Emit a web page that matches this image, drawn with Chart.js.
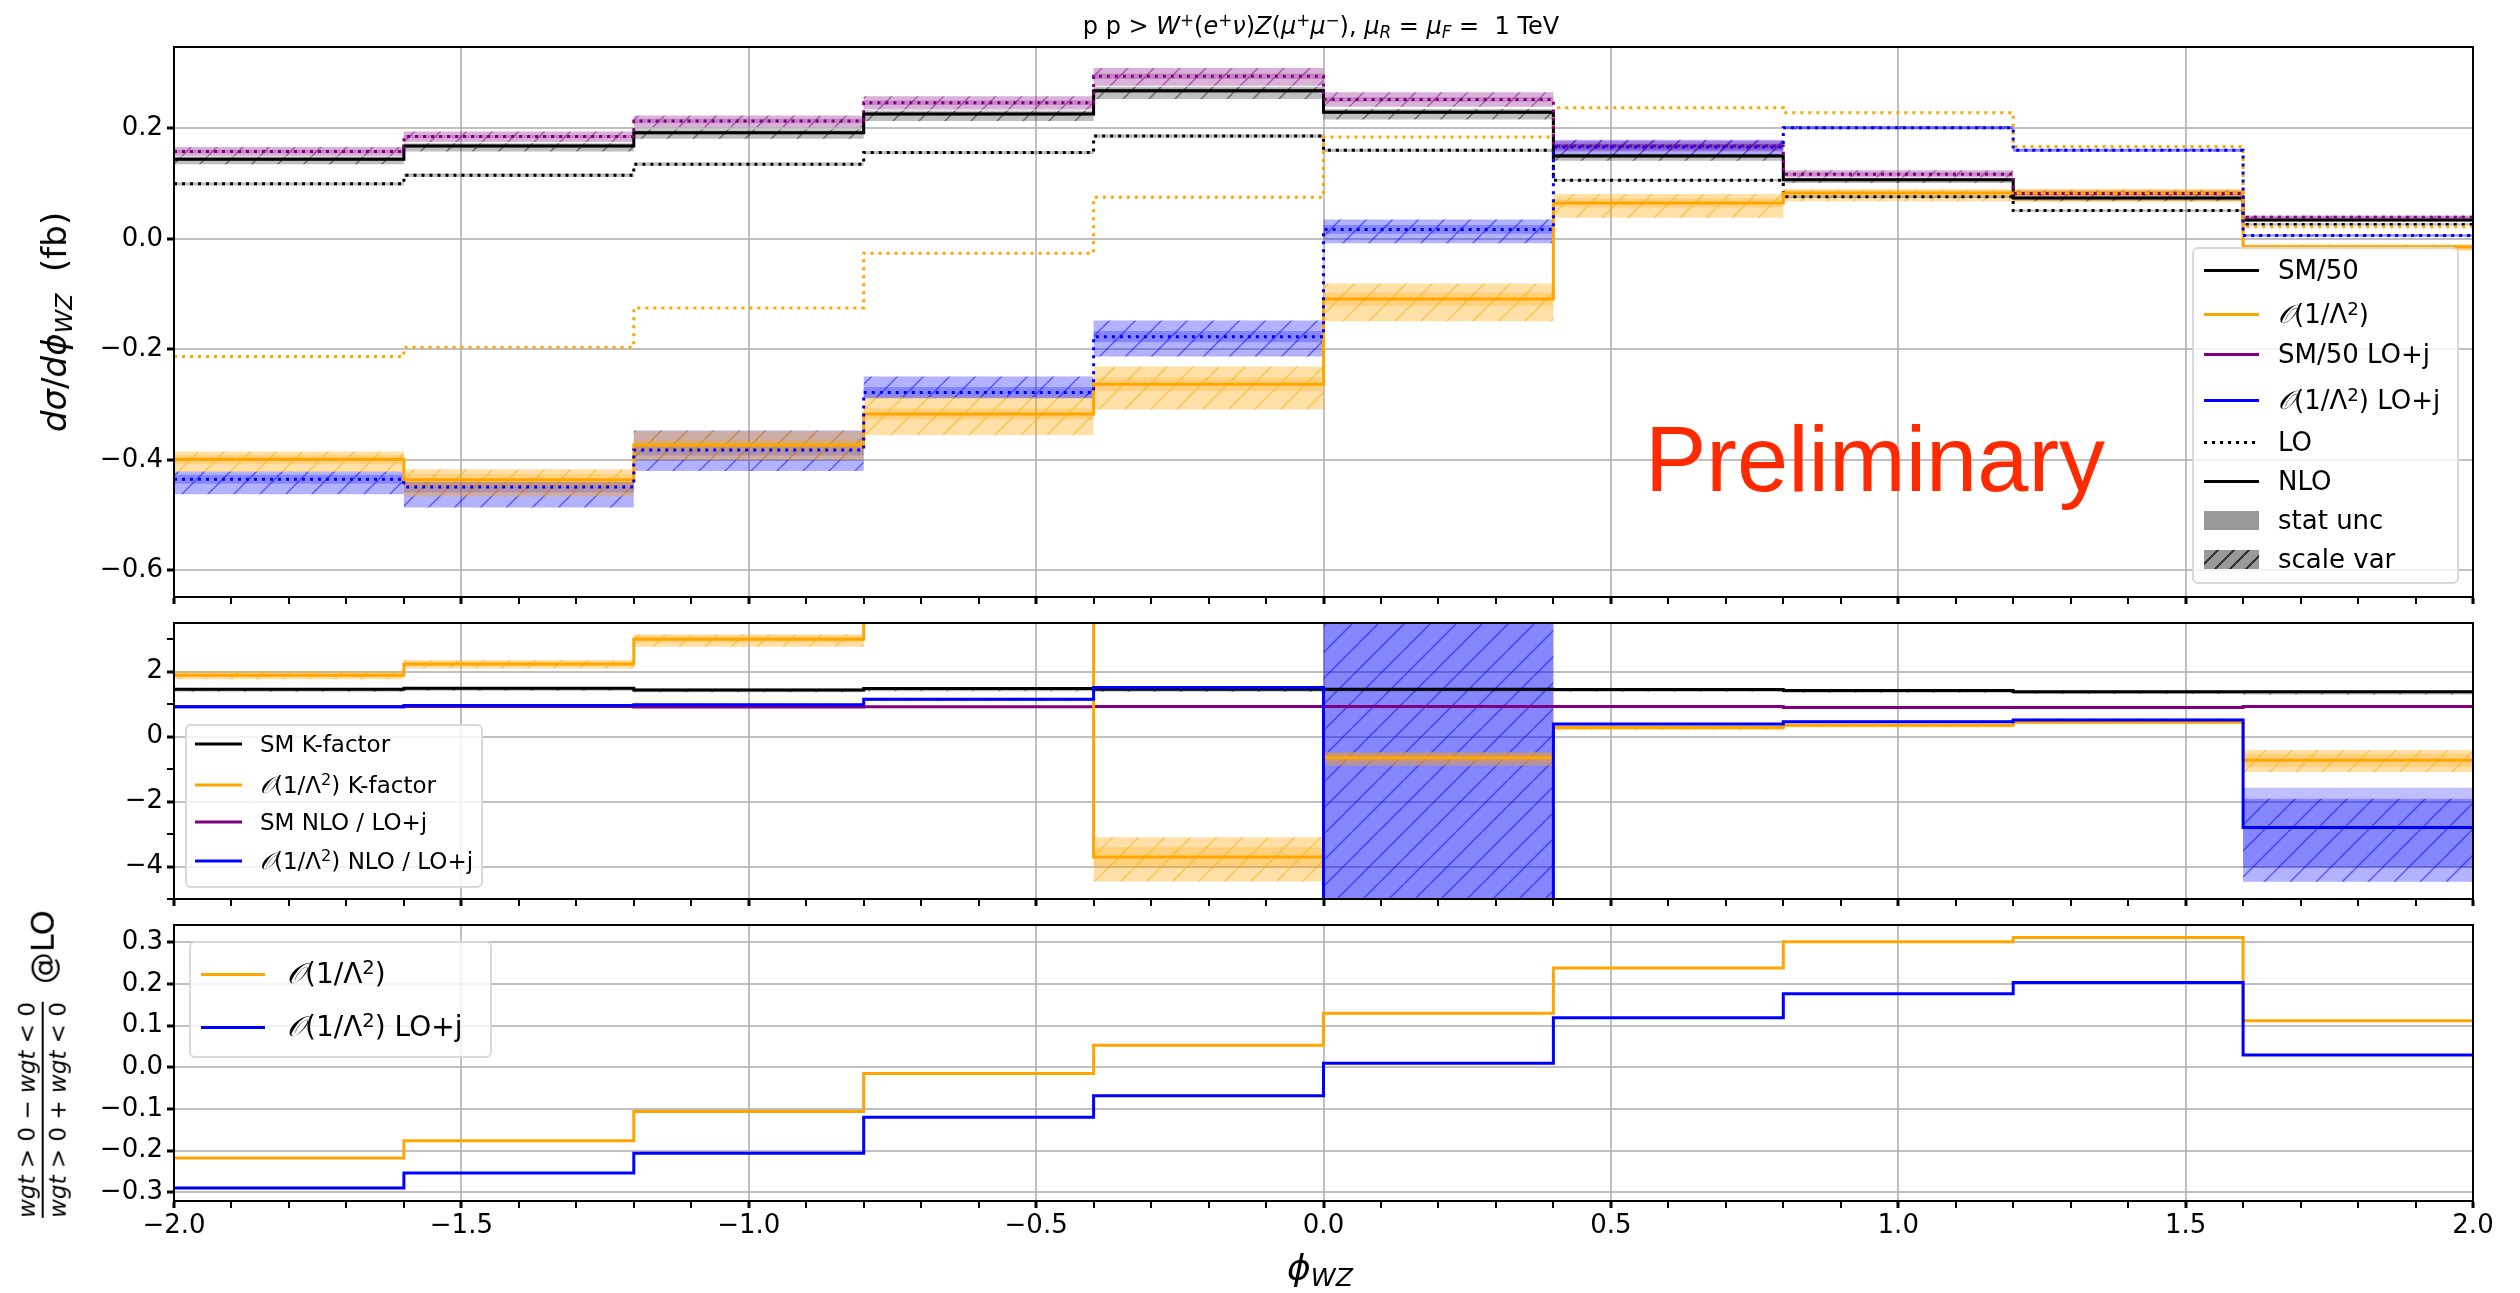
<!DOCTYPE html>
<html>
<head>
<meta charset="utf-8">
<script src="https://cdn.jsdelivr.net/npm/chart.js@4.4.0/dist/chart.umd.min.js"></script>
<style>
  html, body { margin: 0; padding: 0; background: #fff; }
  #fig { position: relative; width: 2520px; height: 1293px; overflow: hidden; font-family: "DejaVu Sans", sans-serif; color: #000; }
  canvas { position: absolute; left: 0; }
  .lbl { position: absolute; white-space: nowrap; line-height: 1; transform: translate(-50%, -50%); }
  .rot { transform: translate(-50%, -50%) rotate(-90deg); }
  sup { font-size: 0.7em; vertical-align: 0.45em; line-height: 0; }
  sub { font-size: 0.7em; vertical-align: -0.25em; line-height: 0; }
  .cal { font-style: italic; font-family: "DejaVu Serif", serif; }
  .legend { position: absolute; background: rgba(255,255,255,0.8); border: 2px solid #d9d9d9; border-radius: 6px; box-sizing: border-box; }
  .entry { position: absolute; display: flex; align-items: center; white-space: nowrap; line-height: 1; transform: translateY(-50%); }
  .h { display: inline-block; flex: none; }
  .ln { height: 0; border-top: 3px solid #000; }
  .dot { height: 3px; background: repeating-linear-gradient(90deg, #000 0 3px, transparent 3px 8px); }
  .frac { display: inline-flex; flex-direction: column; align-items: center; line-height: 1.1; }
  .bar { align-self: stretch; border-top: 2px solid #000; margin: 2px 0; }
</style>
</head>
<body>
<div id="fig">
  <canvas id="top" width="2520" height="621" style="top:0px"></canvas>
  <canvas id="mid" width="2520" height="325" style="top:598px"></canvas>
  <canvas id="bot" width="2520" height="393" style="top:900px"></canvas>

  <div class="lbl" style="left:1321px;top:26px;font-size:24px">p p &gt; <i>W</i><sup>+</sup>(<i>e</i><sup>+</sup><i>ν</i>)<i>Z</i>(<i>μ</i><sup>+</sup><i>μ</i><sup>−</sup>), <i>μ</i><sub><i>R</i></sub> = <i>μ</i><sub><i>F</i></sub> =&nbsp; 1 TeV</div>
  <div class="lbl rot" style="left:54px;top:322px;font-size:34px"><i>dσ</i>/<i>dϕ</i><sub><i>WZ</i></sub>&nbsp; (fb)</div>
  <div class="lbl rot" style="left:43px;top:1064px;display:flex;align-items:center">
    <span class="frac" style="font-size:23px"><span><i>wgt</i> &gt; 0 − <i>wgt</i> &lt; 0</span><span class="bar"></span><span><i>wgt</i> &gt; 0 + <i>wgt</i> &lt; 0</span></span>
    <span style="font-size:32px;margin-left:18px">@LO</span>
  </div>
  <div class="lbl" style="left:1320px;top:1268px;font-size:36px"><i>ϕ</i><sub><i>WZ</i></sub></div>

  <div style="position:absolute;left:1645px;top:413px;font-family:'Liberation Sans',Arial,sans-serif;font-size:92px;line-height:1;color:#ff2a00;white-space:nowrap">Preliminary</div>

  <div class="legend" style="left:2192px;top:247px;width:267px;height:337px;font-size:26px">
    <div class="entry" style="left:10px;top:21px"><span class="h ln" style="width:55px;margin-right:19px;border-color:#000"></span>SM/50</div>
    <div class="entry" style="left:10px;top:65px"><span class="h ln" style="width:55px;margin-right:19px;border-color:#ffa500"></span><span><span class="cal">𝒪</span>(1/Λ<sup>2</sup>)</span></div>
    <div class="entry" style="left:10px;top:105px"><span class="h ln" style="width:55px;margin-right:19px;border-color:#800080"></span>SM/50 LO+j</div>
    <div class="entry" style="left:10px;top:151px"><span class="h ln" style="width:55px;margin-right:19px;border-color:#0000ff"></span><span><span class="cal">𝒪</span>(1/Λ<sup>2</sup>) LO+j</span></div>
    <div class="entry" style="left:10px;top:193px"><span class="h dot" style="width:55px;margin-right:19px"></span>LO</div>
    <div class="entry" style="left:10px;top:232px"><span class="h ln" style="width:55px;margin-right:19px;border-color:#000"></span>NLO</div>
    <div class="entry" style="left:10px;top:271px"><span class="h" style="width:55px;height:19px;margin-right:19px;background:#999"></span>stat unc</div>
    <div class="entry" style="left:10px;top:310px"><span class="h" style="width:55px;height:19px;margin-right:19px;background-color:#999;background-image:repeating-linear-gradient(135deg, transparent 0 9px, #333 9px 11px)"></span>scale var</div>
  </div>

  <div class="legend" style="left:185px;top:724px;width:298px;height:164px;font-size:23px">
    <div class="entry" style="left:8px;top:18px"><span class="h ln" style="width:47px;margin-right:18px;border-color:#000"></span>SM K-factor</div>
    <div class="entry" style="left:8px;top:59px"><span class="h ln" style="width:47px;margin-right:18px;border-color:#ffa500"></span><span><span class="cal">𝒪</span>(1/Λ<sup>2</sup>) K-factor</span></div>
    <div class="entry" style="left:8px;top:96px"><span class="h ln" style="width:47px;margin-right:18px;border-color:#800080"></span>SM NLO / LO+j</div>
    <div class="entry" style="left:8px;top:135px"><span class="h ln" style="width:47px;margin-right:18px;border-color:#0000ff"></span><span><span class="cal">𝒪</span>(1/Λ<sup>2</sup>) NLO / LO+j</span></div>
  </div>

  <div class="legend" style="left:189px;top:941px;width:303px;height:117px;font-size:28px">
    <div class="entry" style="left:10px;top:31px"><span class="h ln" style="width:64px;margin-right:22px;border-color:#ffa500"></span><span><span class="cal">𝒪</span>(1/Λ<sup>2</sup>)</span></div>
    <div class="entry" style="left:10px;top:84px"><span class="h ln" style="width:64px;margin-right:22px;border-color:#0000ff"></span><span><span class="cal">𝒪</span>(1/Λ<sup>2</sup>) LO+j</span></div>
  </div>
</div>

<script>
// bin edges in phi_WZ
const edges = [-2.0, -1.6, -1.2, -0.8, -0.4, 0.0, 0.4, 0.8, 1.2, 1.6, 2.0];

// upper panel: dsigma/dphi (fb)
const smNLO        = [0.144, 0.168, 0.192, 0.226, 0.268, 0.229, 0.150, 0.107, 0.074, 0.034];
const smNLOStat    = [0.003, 0.003, 0.003, 0.003, 0.004, 0.003, 0.003, 0.002, 0.002, 0.002];
const smNLOScaleLo = [0.135, 0.158, 0.181, 0.213, 0.253, 0.216, 0.141, 0.101, 0.069, 0.031];
const smNLOScaleHi = [0.149, 0.173, 0.198, 0.232, 0.275, 0.235, 0.154, 0.110, 0.076, 0.035];
const smLO         = [0.0995, 0.115, 0.135, 0.156, 0.186, 0.160, 0.106, 0.076, 0.051, 0.026];
const smLOStat     = [0.003, 0.003, 0.003, 0.003, 0.003, 0.003, 0.002, 0.002, 0.002, 0.002];
const smLOj        = [0.158, 0.185, 0.213, 0.246, 0.294, 0.252, 0.168, 0.117, 0.082, 0.039];
const smLOjStat    = [0.003, 0.003, 0.004, 0.004, 0.005, 0.004, 0.003, 0.003, 0.002, 0.002];
const smLOjScaleLo = [0.150, 0.175, 0.202, 0.234, 0.277, 0.239, 0.158, 0.111, 0.077, 0.036];
const smLOjScaleHi = [0.166, 0.194, 0.223, 0.258, 0.309, 0.265, 0.177, 0.124, 0.087, 0.042];
const eftLO         = [-0.213, -0.196, -0.125, -0.026, 0.075, 0.184, 0.237, 0.228, 0.167, 0.022];
const eftNLO        = [-0.399, -0.436, -0.373, -0.317, -0.263, -0.109, 0.065, 0.083, 0.083, -0.015];
const eftNLOStat    = [0.008, 0.010, 0.009, 0.010, 0.012, 0.012, 0.008, 0.006, 0.006, 0.004];
const eftNLOScaleLo = [-0.422, -0.466, -0.400, -0.355, -0.309, -0.149, 0.038, 0.068, 0.066, -0.022];
const eftNLOScaleHi = [-0.385, -0.417, -0.348, -0.286, -0.231, -0.081, 0.081, 0.089, 0.090, -0.010];
const eftLOj        = [-0.435, -0.449, -0.382, -0.278, -0.177, 0.017, 0.166, 0.201, 0.160, 0.006];
const eftLOjStat    = [0.008, 0.010, 0.010, 0.010, 0.010, 0.008, 0.006, 0.003, 0.003, 0.002];
const eftLOjScaleLo = [-0.462, -0.486, -0.420, -0.289, -0.213, -0.008, 0.149, 0.198, 0.158, 0.004];
const eftLOjScaleHi = [-0.421, -0.440, -0.347, -0.249, -0.148, 0.035, 0.179, 0.204, 0.163, 0.008];

// middle panel: ratios
const kSM        = [1.46, 1.49, 1.44, 1.48, 1.46, 1.46, 1.45, 1.42, 1.38, 1.38];
const kSMStat    = [0.03, 0.03, 0.03, 0.03, 0.03, 0.03, 0.03, 0.03, 0.03, 0.03];
const kSMScaleLo = [1.38, 1.41, 1.37, 1.40, 1.38, 1.39, 1.38, 1.35, 1.31, 1.30];
const kSMScaleHi = [1.50, 1.53, 1.48, 1.52, 1.50, 1.50, 1.49, 1.46, 1.42, 1.42];
const kEFT        = [1.89, 2.24, 3.00, 12.2, -3.71, -0.65, 0.28, 0.35, 0.44, -0.73];
const kEFTStat    = [0.06, 0.07, 0.10, 0.60, 0.30, 0.12, 0.04, 0.04, 0.04, 0.20];
const kEFTScaleLo = [1.77, 2.10, 2.77, 10.8, -4.46, -0.90, 0.20, 0.29, 0.39, -1.09];
const kEFTScaleHi = [2.02, 2.36, 3.15, 13.6, -3.10, -0.47, 0.34, 0.40, 0.49, -0.41];
const rSM     = [0.92, 0.93, 0.91, 0.92, 0.93, 0.93, 0.93, 0.90, 0.90, 0.93];
const rSMStat = [0.02, 0.02, 0.02, 0.02, 0.02, 0.02, 0.02, 0.02, 0.02, 0.02];
const rEFT        = [0.92, 0.96, 0.98, 1.15, 1.51, -6.6, 0.39, 0.46, 0.51, -2.80];
const rEFTStat    = [0.02, 0.02, 0.02, 0.03, 0.04, 12.0, 0.03, 0.03, 0.04, 1.23];
const rEFTScaleLo = [0.88, 0.92, 0.94, 1.10, 1.45, -20, 0.35, 0.43, 0.47, -4.47];
const rEFTScaleHi = [0.95, 0.99, 1.01, 1.19, 1.56, 10, 0.42, 0.50, 0.55, -1.91];

// lower panel: (w>0 - w<0)/(w>0 + w<0) at LO
const asymEFT  = [-0.218, -0.176, -0.106, -0.015, 0.053, 0.130, 0.239, 0.302, 0.312, 0.112];
const asymEFTj = [-0.290, -0.254, -0.206, -0.120, -0.068, 0.010, 0.119, 0.177, 0.204, 0.030];

const ORANGE = '255,165,0', BLUE = '0,0,255', PURPLE = '128,0,128', BLACK = '0,0,0';
const GRID = 'rgba(176,176,176,0.8)';
const TICK_FONT = { family: 'DejaVu Sans', size: 26 };

const near = (v, step) => Math.abs(v / step - Math.round(v / step)) < 1e-6;
const fmt = (v, d) => (Math.abs(v) < 1e-9 ? 0 : v).toFixed(d).replace('-', '\u2212');
const shift = (vals, err, sign) => vals.map((v, i) => v + sign * err[i]);

function steps(vals) {
  const pts = vals.map((v, i) => ({ x: edges[i], y: v }));
  pts.push({ x: edges[vals.length], y: vals[vals.length - 1] });
  return pts;
}

function line(vals, rgb, dotted) {
  return { data: steps(vals), borderColor: 'rgb(' + rgb + ')', borderWidth: 3, borderDash: dotted ? [3, 5] : [],
           stepped: true, pointRadius: 0, fill: false, order: 0 };
}

function band(sets, lo, hi, style) {
  const i = sets.length;
  sets.push({ data: steps(lo), borderWidth: 0, borderColor: 'transparent', pointRadius: 0, stepped: true, fill: false, order: 1 });
  sets.push({ data: steps(hi), borderWidth: 0, borderColor: 'transparent', pointRadius: 0, stepped: true,
              fill: { target: i }, backgroundColor: style, order: 1 });
}

function hatch(ctx, rgb, fillAlpha, lineAlpha) {
  const t = 26, c = document.createElement('canvas');
  c.width = c.height = t;
  const g = c.getContext('2d');
  g.fillStyle = 'rgba(' + rgb + ',' + fillAlpha + ')';
  g.fillRect(0, 0, t, t);
  g.strokeStyle = 'rgba(' + rgb + ',' + lineAlpha + ')';
  g.lineWidth = 1.5;
  g.beginPath();
  for (const o of [-t, 0, t]) { g.moveTo(o, t); g.lineTo(o + t, 0); }
  g.stroke();
  return ctx.createPattern(c, 'repeat');
}

function statFill(rgb) { return 'rgba(' + rgb + ',0.25)'; }

function xAxis(labels, height) {
  const major = c => c.tick && near(c.tick.value, 0.5);
  return {
    type: 'linear', min: -2, max: 2,
    afterFit: s => { s.height = height; },
    ticks: { stepSize: 0.1, autoSkip: false, maxRotation: 0, padding: 3, color: '#000', font: TICK_FONT,
             callback: v => (labels && near(v, 0.5)) ? fmt(v, 1) : '' },
    grid: { color: c => major(c) ? GRID : 'transparent', lineWidth: 2, tickLength: 7,
            tickColor: '#000', tickWidth: c => major(c) ? 3 : 2 },
    border: { color: '#000', width: 2 }
  };
}

function yAxis(min, max, step, majorStep, digits) {
  const major = c => c.tick && near(c.tick.value, majorStep);
  return {
    min, max,
    afterFit: s => { s.width = 174; },
    ticks: { stepSize: step, includeBounds: false, autoSkip: false, padding: 4, color: '#000', font: TICK_FONT,
             callback: v => near(v, majorStep) ? fmt(v, digits) : '' },
    grid: { color: c => major(c) ? GRID : 'transparent', lineWidth: 2, tickLength: 7,
            tickColor: '#000', tickWidth: c => major(c) ? 3 : 2 },
    border: { color: '#000', width: 2 }
  };
}

// box round the plot area, drawn over the data
const frame = {
  id: 'frame',
  afterDatasetsDraw(chart) {
    const { ctx, chartArea: a } = chart;
    ctx.save();
    ctx.strokeStyle = '#000';
    ctx.lineWidth = 2;
    ctx.strokeRect(a.left, a.top, a.right - a.left, a.bottom - a.top);
    ctx.restore();
  }
};

function makeChart(id, datasets, padTop, x, y) {
  return new Chart(document.getElementById(id), {
    type: 'line',
    data: { datasets },
    options: {
      responsive: false, animation: false, events: [],
      layout: { padding: { top: padTop, right: 47, left: 0, bottom: 0 } },
      plugins: { legend: { display: false }, tooltip: { enabled: false } },
      scales: { x, y }
    },
    plugins: [frame]
  });
}

// upper panel
const topCtx = document.getElementById('top').getContext('2d');
const topSets = [
  line(eftLOj, BLUE, true),
  line(smLOj, PURPLE, true),
  line(eftNLO, ORANGE, false),
  line(eftLO, ORANGE, true),
  line(smNLO, BLACK, false),
  line(smLO, BLACK, true)
];
band(topSets, shift(smNLO, smNLOStat, -1), shift(smNLO, smNLOStat, 1), statFill(BLACK));
band(topSets, smNLOScaleLo, smNLOScaleHi, hatch(topCtx, BLACK, 0.25, 0.45));
band(topSets, shift(smLO, smLOStat, -1), shift(smLO, smLOStat, 1), statFill(BLACK));
band(topSets, shift(smLOj, smLOjStat, -1), shift(smLOj, smLOjStat, 1), statFill(PURPLE));
band(topSets, smLOjScaleLo, smLOjScaleHi, hatch(topCtx, PURPLE, 0.3, 0.5));
band(topSets, shift(eftNLO, eftNLOStat, -1), shift(eftNLO, eftNLOStat, 1), statFill(ORANGE));
band(topSets, eftNLOScaleLo, eftNLOScaleHi, hatch(topCtx, ORANGE, 0.35, 0.5));
band(topSets, shift(eftLOj, eftLOjStat, -1), shift(eftLOj, eftLOjStat, 1), statFill(BLUE));
band(topSets, eftLOjScaleLo, eftLOjScaleHi, hatch(topCtx, BLUE, 0.3, 0.5));
makeChart('top', topSets, 47, xAxis(false, 24), yAxis(-0.648, 0.347, 0.2, 0.2, 1));

// middle panel
const midCtx = document.getElementById('mid').getContext('2d');
const midSets = [
  line(rEFT, BLUE, false),
  line(kEFT, ORANGE, false),
  line(kSM, BLACK, false),
  line(rSM, PURPLE, false)
];
band(midSets, shift(kSM, kSMStat, -1), shift(kSM, kSMStat, 1), statFill(BLACK));
band(midSets, kSMScaleLo, kSMScaleHi, hatch(midCtx, BLACK, 0.25, 0.45));
band(midSets, shift(rSM, rSMStat, -1), shift(rSM, rSMStat, 1), statFill(PURPLE));
band(midSets, shift(kEFT, kEFTStat, -1), shift(kEFT, kEFTStat, 1), statFill(ORANGE));
band(midSets, kEFTScaleLo, kEFTScaleHi, hatch(midCtx, ORANGE, 0.35, 0.5));
band(midSets, shift(rEFT, rEFTStat, -1), shift(rEFT, rEFTStat, 1), statFill(BLUE));
band(midSets, rEFTScaleLo, rEFTScaleHi, hatch(midCtx, BLUE, 0.3, 0.5));
makeChart('mid', midSets, 25, xAxis(false, 24), yAxis(-5, 3.5, 1, 2, 0));

// lower panel
const botSets = [
  line(asymEFTj, BLUE, false),
  line(asymEFT, ORANGE, false)
];
makeChart('bot', botSets, 25, xAxis(true, 92), yAxis(-0.321, 0.342, 0.1, 0.1, 1));
</script>
</body>
</html>
